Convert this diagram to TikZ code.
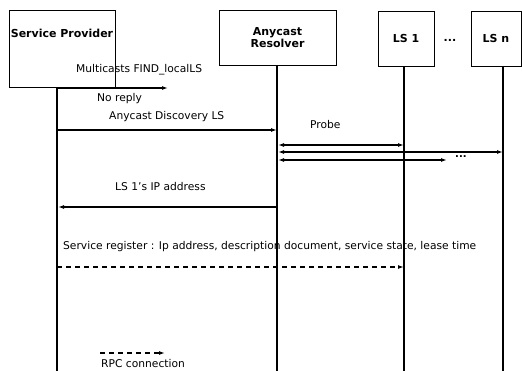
\documentclass[tikz,border=0pt]{standalone}
\usepackage{fontspec}
\setmainfont{DejaVu Sans}
\usetikzlibrary{calc,positioning,arrows.meta}

\begin{document}
\begin{tikzpicture}[x=1pt, y=-1pt]
\tikzset{actorbox/.style={draw, line width=0.8pt, inner sep=0},
actorlabel/.style={font=\bfseries\fontsize{11}{12}\selectfont, align=center, inner sep=0},
msglabel/.style={font=\fontsize{10.7}{12}\selectfont, anchor=west, inner sep=0},
lifeline/.style={line width=1.3pt},
msg/.style={line width=1.2pt, -{Latex[length=6pt,width=4pt]}},
probe/.style={line width=1.2pt, {Latex[length=6pt,width=4pt]}-{Latex[length=6pt,width=4pt]}},
rpc/.style={msg, dash pattern=on 5pt off 4pt}}

\useasboundingbox (0,0) rectangle (522,371);

%% Actors
\node (sp) [actorbox, minimum width=106, minimum height=77] at (62, 48.5) {};
\node (ar) [actorbox, minimum width=117, minimum height=55] at (277.5, 37.5) {};
\node (ls1) [actorbox, minimum width=56, minimum height=55] at (406, 38.5) {};
\node (lsn) [actorbox, minimum width=50, minimum height=55] at (496, 38.5) {};

\node (splab) [actorlabel, below=19pt of sp.north] {Service Provider};
\node (arlab) [actorlabel] at (ar) {Anycast\\Resolver};
\node (ls1lab) [actorlabel] at (ls1) {LS 1};
\node (lsnlab) [actorlabel] at (lsn) {LS n};
\node (dots) [actorlabel] at (450, 40) {...};

%% Lifelines
\foreach \n/\x/\y in {spT/57/87, arT/277/65, lsaT/404/66, lsnT/503/66}
  \coordinate (\n) at (\x,\y);
\foreach \n/\x in {spB/57, arB/277, lsaB/404, lsnB/503}
  \coordinate (\n) at (\x,371);
\foreach \u/\v in {spT/spB, arT/arB, lsaT/lsaB, lsnT/lsnB} \draw[lifeline] (\u) -- (\v);

%% Messages
\foreach \n/\x/\y in {m1a/57/88, m1b/168/88, m2a/57/130, m2b/277/130,
  p1a/278/145, p1b/404/145, p2a/278/152, p2b/503/152, p3a/278/160, p3b/447/160,
  m3a/277/207, m3b/58/207, m4a/57/267, m4b/404/267, k1/100/353, k2/165/353}
  \coordinate (\n) at (\x,\y);

\draw[msg] (m1a) -- (m1b);
\draw[msg] (m2a) -- (m2b);
\draw[probe] (p1a) -- (p1b);
\draw[probe] (p2a) -- (p2b);
\draw[probe] (p3a) -- (p3b);
\draw[msg] (m3a) -- (m3b);
\draw[rpc] (m4a) -- (m4b);
\draw[rpc] (k1) -- (k2);

%% Labels
\node [msglabel] at (76, 70) {Multicasts FIND\_localLS};
\node [msglabel] at (97, 99) {No reply};
\node [msglabel] at (109, 117) {Anycast Discovery LS};
\node [msglabel] at (310, 125) {Probe};
\node [msglabel, font=\bfseries\fontsize{10}{12}\selectfont] at (455, 157) {...};
\node [msglabel] at (115, 187) {LS 1’s IP address};
\node [msglabel] at (63, 247) {Service register : Ip address, description document, service state, lease time};
\node [msglabel] at (101, 364) {RPC connection};

\end{tikzpicture}
\end{document}
